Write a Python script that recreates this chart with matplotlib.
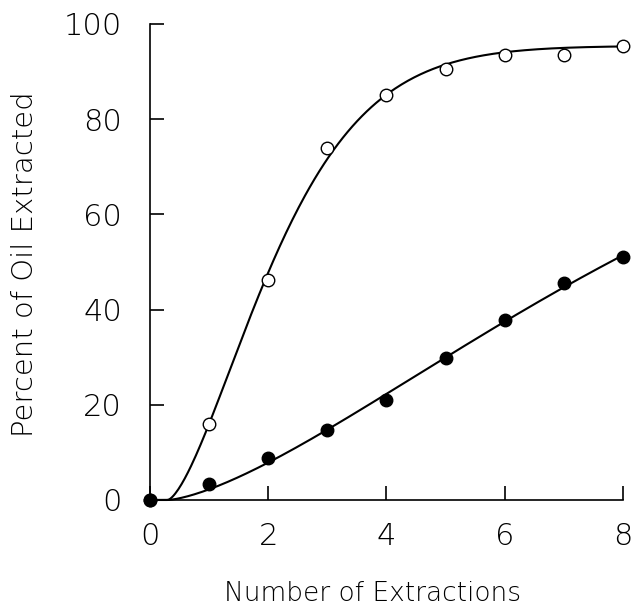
import numpy as np
import matplotlib
matplotlib.use("Agg")
import matplotlib.pyplot as plt

# data
extractions = [0, 1, 2, 3, 4, 5, 6, 7, 8]
open_pct = [0, 16.0, 46.3, 74.0, 85.0, 90.6, 93.4, 93.4, 95.4]
filled_pct = [0, 3.4, 8.9, 14.6, 21.0, 29.9, 37.9, 45.6, 51.0]

plt.rcParams["font.family"] = ["DejaVu Sans"]
plt.rcParams["font.weight"] = "light"


def fit_curve(x, y):
    # least squares fit of a shifted Weibull curve by grid search
    x = np.asarray(x, float)
    y = np.asarray(y, float)
    ymax = y.max()
    A = np.linspace(ymax, ymax * 2.0, 41)[:, None, None, None]
    b = np.linspace(0.5, 12, 70)[None, :, None, None]
    m = np.linspace(0.8, 3.0, 45)[None, None, :, None]
    x0 = 0.3
    t = np.clip(x - x0, 0, None)[None, None, None, :]
    pred = A * (1 - np.exp(-(t / b) ** m))
    err = ((pred - y) ** 2).sum(axis=-1)
    i, j, k = np.unravel_index(np.argmin(err), err.shape)
    pa, pb, pm = A[i, 0, 0, 0], b[0, j, 0, 0], m[0, 0, k, 0]
    xs = np.linspace(0, x.max(), 300)
    ts = np.clip(xs - x0, 0, None)
    return xs, pa * (1 - np.exp(-(ts / pb) ** pm))


fig = plt.figure(figsize=(6.32, 6.09), dpi=100)
ax = fig.add_axes([0.2373, 0.179, 0.7485, 0.7816])

for ys, face in [(open_pct, "white"), (filled_pct, "black")]:
    xs, fit = fit_curve(extractions, ys)
    ax.plot(xs, fit, color="black", lw=1.5, clip_on=False, zorder=2)
    ax.plot(extractions, ys, "o", ms=9, mfc=face, mec="black", mew=1.0,
            clip_on=False, zorder=3)

ax.set_xlim(0, 8)
ax.set_ylim(0, 100)
ax.set_xticks([0, 2, 4, 6, 8])
ax.set_yticks([0, 20, 40, 60, 80, 100])
ax.spines["top"].set_visible(False)
ax.spines["right"].set_visible(False)
for s in ("left", "bottom"):
    ax.spines[s].set_linewidth(1.2)
ax.tick_params(direction="in", length=10, width=1.2, labelsize=22)
ax.tick_params(axis="x", pad=16)
ax.tick_params(axis="y", pad=20)

ax.set_xlabel("Number of Extractions", fontsize=19, fontweight="light")
ax.set_ylabel("Percent of Oil Extracted", fontsize=21, fontweight="light")
ax.xaxis.set_label_coords(0.471, -0.17)
ax.yaxis.set_label_coords(-0.235, 0.496)

fig.savefig("out.png", dpi=100)
